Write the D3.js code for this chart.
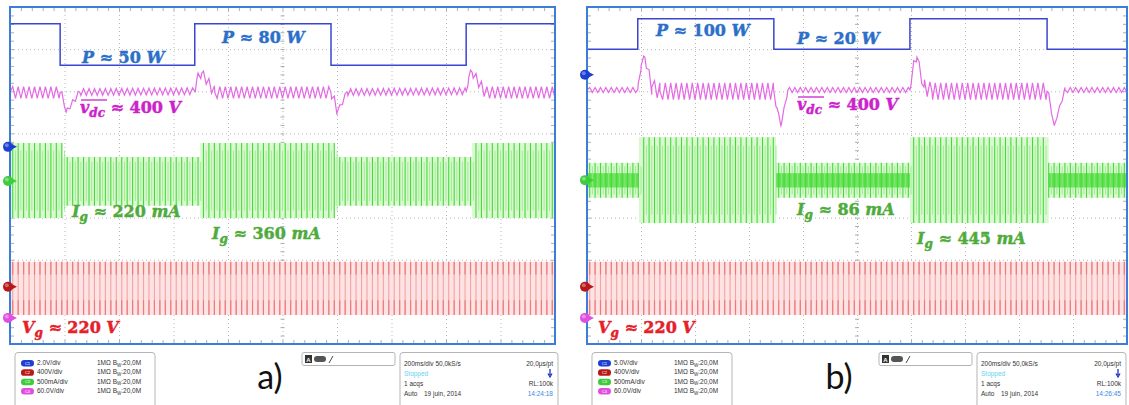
<!DOCTYPE html>
<html><head><meta charset="utf-8">
<script src="https://cdn.jsdelivr.net/npm/d3@7"></script>
<style>body{margin:0;background:#fff} svg{display:block}</style>
</head><body>
<svg id="chart" width="1129" height="405"></svg>
<script>
// ===== DATA (horizontal in divisions 0..10 @200 ms/div, vertical in divisions -4..4) =====
const cyclesPerDiv = 10;           // 50 Hz grid at 200 ms/div
const channelNames = ["C1", "C2", "C3", "C4"];
const horizSettings = ["200ms/div 50,0kS/s", "20,0µs/pt"];
const acqInfo = ["Stopped", "1 acqs", "RL:100k", "Auto", "19 juin, 2014"];
const probeInfo = "1MΩ";
const bwInfo = ":20,0M";

// ---- panel a ----
const aChannelScales = ["2.0V/div", "400V/div", "500mA/div", "60.0V/div"];
const aTime = "14:24:18";
const aTag = "a)";
const aPowerSwitch = [0.92, 3.39, 5.89, 8.37];
const aPowerLevel  = [3.60, 2.62, 3.60, 2.62, 3.60];
const aVdcTime   = [0, 0.92, 0.97, 1.03, 1.28, 3.39, 3.43, 3.52, 3.76, 5.89, 5.96, 6.00, 6.19, 8.37, 8.42, 8.48, 8.72, 10];
const aVdcLevel  = [1.97, 1.97, 1.85, 1.51, 1.98, 2.00, 2.30, 2.43, 1.97, 1.97, 1.80, 1.49, 1.98, 2.00, 2.35, 2.45, 1.97, 1.97];
const aVdcRipple = [0.14, 0.14, 0.05, 0.05, 0.08, 0.08, 0.10, 0.10, 0.14, 0.14, 0.05, 0.05, 0.08, 0.08, 0.10, 0.10, 0.14, 0.14];
const aIgSwitch = [0.97, 3.49, 5.96, 8.48];
const aIgTop    = [0.77, 0.44, 0.77, 0.44, 0.77];
const aIgBottom = [-1.01, -0.72, -1.01, -0.72, -1.01];
const aVgEnvelope = [-2.05, -3.31];
const aMarkers = [0.68, -2.64, -0.13, -3.38];   // C1, C2, C3, C4 reference levels
const aLabelText = ["P ≈ 50 W", "P ≈ 80 W", "vdc ≈ 400 V", "Ig ≈ 220 mA", "Ig ≈ 360 mA", "Vg ≈ 220 V"];

// ---- panel b ----
const bChannelScales = ["5.0V/div", "400V/div", "500mA/div", "60.0V/div"];
const bTime = "14:26:45";
const bTag = "b)";
const bPowerSwitch = [0.94, 3.46, 5.98, 8.52];
const bPowerLevel  = [3.00, 3.72, 3.00, 3.72, 3.00];
const bVdcTime   = [0, 0.94, 1.00, 1.07, 1.20, 1.35, 3.46, 3.52, 3.59, 3.72, 5.98, 6.04, 6.11, 6.24, 6.39, 8.52, 8.59, 8.65, 8.85, 10];
const bVdcLevel  = [2.03, 2.03, 2.60, 2.81, 2.10, 2.00, 2.00, 1.60, 1.18, 2.03, 2.03, 2.60, 2.81, 2.10, 2.00, 2.00, 1.60, 1.18, 2.03, 2.03];
const bVdcRipple = [0.06, 0.06, 0.10, 0.08, 0.18, 0.20, 0.20, 0.05, 0.03, 0.06, 0.06, 0.10, 0.08, 0.18, 0.20, 0.20, 0.05, 0.03, 0.06, 0.06];
const bIgSwitch = [0.96, 3.50, 5.98, 8.55];
const bIgTop    = [0.30, 0.91, 0.30, 0.91, 0.30];
const bIgBottom = [-0.53, -1.13, -0.53, -1.13, -0.53];
const bIgCore   = [0.17, 0, 0.17, 0, 0.17];   // dense bright band (half-height) in low-power segments
const bVgEnvelope = [-2.05, -3.31];
const bMarkers = [2.39, -2.64, -0.11, -3.38];
const bLabelText = ["P ≈ 100 W", "P ≈ 20 W", "vdc ≈ 400 V", "Ig ≈ 86 mA", "Ig ≈ 445 mA", "Vg ≈ 220 V"];

// ===== DRAWING =====
const svg = d3.select("#chart");
const COL = {
  frame: "#3b7dd8", grid: "#b9b9b9",
  c1: "#3a46cf", c2: "#ee7a7a", c2fill: "#fde3e3", c3: "#42dc38", c3fill: "#dcf8d2", c4: "#e46ae4",
  tP: "#2b6fc9", tV: "#cc22cc", tI: "#4fab3b", tR: "#e4202a"
};
const markerCol = ["#1d3fd2", "#b81818", "#3ccc3c", "#e050e0"];

function drawPanel(cfg) {
  const g = svg.append("g");
  const x = d3.scaleLinear().domain([0, 10]).range([cfg.x0, cfg.x1]);
  const y = d3.scaleLinear().domain([-4, 4]).range([cfg.y1, cfg.y0]);
  const W = cfg.x1 - cfg.x0, H = cfg.y1 - cfg.y0;
  const clean = s => { s.select(".domain").remove(); s.selectAll("text").remove(); };

  // grid (dotted)
  g.append("g").attr("transform", `translate(0,${cfg.y0})`)
    .call(d3.axisBottom(x).tickValues(d3.range(1, 10)).tickSize(H).tickFormat(""))
    .call(clean).selectAll("line").attr("stroke", COL.grid).attr("stroke-dasharray", "1,3");
  g.append("g").attr("transform", `translate(${cfg.x0},0)`)
    .call(d3.axisRight(y).tickValues(d3.range(-3, 4)).tickSize(W).tickFormat(""))
    .call(clean).selectAll("line").attr("stroke", COL.grid).attr("stroke-dasharray", "1,3");

  // minor ticks on borders and centre lines
  const minorX = d3.range(0, 10.001, 0.2), minorY = d3.range(-4, 4.001, 0.2);
  const tickStyle = s => { clean(s); s.selectAll("line").attr("stroke", "#999").attr("stroke-width", 0.8); };
  g.append("g").attr("transform", `translate(0,${cfg.y0})`).call(d3.axisBottom(x).tickValues(minorX).tickSize(4).tickFormat("")).call(tickStyle);
  g.append("g").attr("transform", `translate(0,${cfg.y1})`).call(d3.axisTop(x).tickValues(minorX).tickSize(4).tickFormat("")).call(tickStyle);
  g.append("g").attr("transform", `translate(${cfg.x0},0)`).call(d3.axisRight(y).tickValues(minorY).tickSize(4).tickFormat("")).call(tickStyle);
  g.append("g").attr("transform", `translate(${cfg.x1},0)`).call(d3.axisLeft(y).tickValues(minorY).tickSize(4).tickFormat("")).call(tickStyle);
  g.append("g").attr("transform", `translate(0,${y(0) - 2})`).call(d3.axisBottom(x).tickValues(minorX).tickSize(4).tickFormat("")).call(tickStyle);
  g.append("g").attr("transform", `translate(${x(5) - 2},0)`).call(d3.axisRight(y).tickValues(minorY).tickSize(4).tickFormat("")).call(tickStyle);

  const cycles = d3.range(0, 10 * cyclesPerDiv).map(k => (k + 0.5) / cyclesPerDiv);

  // Vg (C2) red
  const [vgT, vgB] = cfg.vg;
  g.append("rect").attr("x", x(0)).attr("y", y(vgT)).attr("width", x(10) - x(0)).attr("height", y(vgB) - y(vgT)).attr("fill", COL.c2fill);
  g.append("g").selectAll("line").data(cycles).join("line")
    .attr("x1", d => x(d)).attr("x2", d => x(d)).attr("y1", y(vgT)).attr("y2", y(vgB))
    .attr("stroke", "#f4a4a4").attr("stroke-width", 1.1);
  [[vgT, vgT - 0.3], [vgB + 0.35, vgB]].forEach(([a, b]) => {
    g.append("g").selectAll("line").data(cycles).join("line")
      .attr("x1", d => x(d)).attr("x2", d => x(d)).attr("y1", y(a)).attr("y2", y(b))
      .attr("stroke", COL.c2).attr("stroke-width", 1.2);
  });

  // Ig (C3) green
  const igB = [0, ...cfg.igSwitch, 10];
  const segOf = t => d3.bisectRight(cfg.igSwitch, t);
  const mid = i => (cfg.igTop[i] + cfg.igBottom[i]) / 2;
  g.append("g").selectAll("rect").data(cfg.igTop).join("rect")
    .attr("x", (d, i) => x(igB[i])).attr("width", (d, i) => x(igB[i + 1]) - x(igB[i]))
    .attr("y", d => y(d)).attr("height", (d, i) => y(cfg.igBottom[i]) - y(d))
    .attr("fill", COL.c3fill);
  if (cfg.igCore) {
    g.append("g").selectAll("rect").data(cfg.igCore).join("rect")
      .attr("x", (d, i) => x(igB[i])).attr("width", (d, i) => x(igB[i + 1]) - x(igB[i]))
      .attr("y", (d, i) => y(mid(i) + d)).attr("height", (d, i) => y(mid(i) - d) - y(mid(i) + d))
      .attr("fill", "#66e055");
  }
  g.append("g").selectAll("line").data(cycles).join("line")
    .attr("x1", d => x(d)).attr("x2", d => x(d))
    .attr("y1", d => y(cfg.igTop[segOf(d)])).attr("y2", d => y(cfg.igBottom[segOf(d)]))
    .attr("stroke", COL.c3).attr("stroke-width", 1.1);
  // thinner secondary strokes between cycles (sampling pattern)
  g.append("g").selectAll("line").data(cycles).join("line")
    .attr("x1", d => x(d + 0.05)).attr("x2", d => x(d + 0.05))
    .attr("y1", d => y(mid(segOf(d)) + 0.8 * (cfg.igTop[segOf(d)] - mid(segOf(d)))))
    .attr("y2", d => y(mid(segOf(d)) + 0.8 * (cfg.igBottom[segOf(d)] - mid(segOf(d)))))
    .attr("stroke", "#8eea80").attr("stroke-width", 0.8);

  // Vdc (C4) magenta: envelope with ripple
  const cen = d3.scaleLinear().domain(cfg.vdcTime).range(cfg.vdcLevel);
  const amp = d3.scaleLinear().domain(cfg.vdcTime).range(cfg.vdcRipple);
  const half = d3.range(0, 20 * cyclesPerDiv + 1).map(i => i / (2 * cyclesPerDiv));
  const pts = half.map((t, i) => [t, cen(t) + (i % 2 ? 1 : -1) * amp(t)]);
  cfg.vdcTime.forEach(t => pts.push([t, cen(t)]));
  pts.sort((a, b) => a[0] - b[0]);
  g.append("path").attr("d", d3.line().x(d => x(d[0])).y(d => y(d[1]))(pts))
    .attr("fill", "none").attr("stroke", COL.c4).attr("stroke-width", 1.2);

  // P (C1) blue step
  const pb = [0, ...cfg.pSwitch];
  const ppts = cfg.pLevel.map((v, i) => [pb[i], v]).concat([[10, cfg.pLevel[cfg.pLevel.length - 1]]]);
  g.append("path").attr("d", d3.line().curve(d3.curveStepAfter).x(d => x(d[0])).y(d => y(d[1]))(ppts))
    .attr("fill", "none").attr("stroke", COL.c1).attr("stroke-width", 1.5);

  // frame
  g.append("rect").attr("x", cfg.x0).attr("y", cfg.y0).attr("width", W).attr("height", H)
    .attr("fill", "none").attr("stroke", COL.frame).attr("stroke-width", 2);

  // channel markers
  g.append("g").selectAll("g").data(cfg.markers).join("g")
    .attr("transform", d => `translate(${cfg.x0 - 2},${y(d)})`)
    .each(function (d, i) {
      const m = d3.select(this);
      m.append("path").attr("d", "M4,-2.5 L9,0 L4,2.5 Z").attr("fill", markerCol[i]);
      m.append("circle").attr("r", 5).attr("fill", markerCol[i]);
      m.append("circle").attr("r", 2).attr("cx", -1.2).attr("cy", -1.5).attr("fill", "#fff").attr("opacity", 0.35);
    });

  // labels
  const T = cfg.labels;
  const fam = "'DejaVu Serif', serif";
  function label(xp, yp, col, parts) {
    const t = g.append("text").attr("x", xp).attr("y", yp).attr("fill", col).attr("stroke", col).attr("stroke-width", 0.45)
      .attr("font-family", fam).attr("font-weight", "bold").attr("font-size", 16);
    parts.forEach(p => {
      const s = t.append("tspan").text(p.t).attr("font-style", p.i ? "italic" : "normal");
      if (p.sub) s.attr("font-size", 12).attr("dy", 4);
      if (p.up) s.attr("dy", -4);
    });
    return t;
  }
  const split = s => { const m = s.split(" ≈ "); return [m[0], m[1]]; };
  cfg.labelPos.forEach((pos, i) => {
    const [lhs, rhs] = split(T[i]);
    const num = rhs.split(" ");
    const rhsParts = [{ t: " ≈ " + num[0] + " ", up: lhs.length > 1 }, { t: num[1], i: true }];
    let col, lhsParts;
    if (lhs === "P") { col = COL.tP; lhsParts = [{ t: "P", i: true }]; rhsParts[0].up = false; }
    else if (lhs === "vdc") { col = COL.tV; lhsParts = [{ t: "v", i: true }, { t: "dc", i: true, sub: true }]; }
    else if (lhs === "Ig") { col = COL.tI; lhsParts = [{ t: "I", i: true }, { t: "g", i: true, sub: true }]; }
    else { col = COL.tR; lhsParts = [{ t: "V", i: true }, { t: "g", i: true, sub: true }]; }
    label(pos[0], pos[1], col, lhsParts.concat(rhsParts));
    if (lhs === "vdc") {
      g.append("line").attr("x1", pos[0] + 1).attr("x2", pos[0] + 27).attr("y1", pos[1] - 13).attr("y2", pos[1] - 13)
        .attr("stroke", col).attr("stroke-width", 1.3);
    }
  });

  // ---- info boxes ----
  const inf = svg.append("g").attr("font-family", "'Liberation Sans', Arial, sans-serif").attr("font-size", 6.5).attr("fill", "#333");
  const lb = cfg.x0 + 5;
  inf.append("rect").attr("x", lb).attr("y", 352.5).attr("width", 140).attr("height", 60).attr("rx", 3)
    .attr("fill", "none").attr("stroke", "#b5b5b5");
  const rowY = d3.scaleLinear().domain([0, 3]).range([365, 393]);
  channelNames.forEach((c, i) => {
    inf.append("rect").attr("x", lb + 6).attr("y", rowY(i) - 5).attr("width", 13).attr("height", 6.5).attr("rx", 3.2)
      .attr("fill", markerCol[i]);
    inf.append("text").attr("x", lb + 12.5).attr("y", rowY(i) - 0.5).attr("text-anchor", "middle").attr("font-size", 4)
      .attr("fill", "#fff").text(c);
    inf.append("text").attr("x", lb + 22).attr("y", rowY(i)).text(cfg.scales[i]);
    const t = inf.append("text").attr("x", lb + 82).attr("y", rowY(i));
    t.append("tspan").text(probeInfo + " B");
    t.append("tspan").attr("font-size", 4.5).attr("dy", 1.5).text("W");
    t.append("tspan").attr("dy", -1.5).text(bwInfo);
  });
  // trigger box
  const tb = cfg.x0 + 292;
  inf.append("rect").attr("x", tb).attr("y", 352.5).attr("width", 93).attr("height", 13).attr("rx", 2)
    .attr("fill", "none").attr("stroke", "#b5b5b5");
  inf.append("rect").attr("x", tb + 3).attr("y", 355).attr("width", 7).attr("height", 8).attr("fill", "#333");
  inf.append("text").attr("x", tb + 6.5).attr("y", 361.5).attr("text-anchor", "middle").attr("fill", "#fff").attr("font-size", 6).attr("font-weight", "bold").text("A");
  inf.append("rect").attr("x", tb + 12).attr("y", 356).attr("width", 12).attr("height", 6).attr("rx", 3).attr("fill", "#555");
  inf.append("path").attr("d", `M${tb + 27},363 L${tb + 31},356`).attr("stroke", "#333").attr("stroke-width", 0.9);
  // horizontal settings box
  const rb = cfg.x0 + 390, rw = cfg.rightW;
  inf.append("rect").attr("x", rb).attr("y", 352.5).attr("width", rw).attr("height", 60).attr("rx", 3)
    .attr("fill", "none").attr("stroke", "#b5b5b5");
  const rr = rb + rw - 5;
  inf.append("text").attr("x", rb + 4).attr("y", 366).text(horizSettings[0]);
  inf.append("text").attr("x", rr).attr("y", 366).attr("text-anchor", "end").text(horizSettings[1]);
  inf.append("text").attr("x", rb + 4).attr("y", 376).attr("fill", "#5fd3f0").text(acqInfo[0]);
  inf.append("path").attr("d", `M${rr - 3},369 L${rr - 3},375 M${rr - 5},373.5 L${rr - 3},377 L${rr - 1},373.5`)
    .attr("stroke", "#2030c0").attr("stroke-width", 1.3).attr("fill", "none");
  inf.append("text").attr("x", rb + 4).attr("y", 386).text(acqInfo[1]);
  inf.append("text").attr("x", rr).attr("y", 386).attr("text-anchor", "end").text(acqInfo[2]);
  inf.append("text").attr("x", rb + 4).attr("y", 396).text(acqInfo[3]);
  inf.append("text").attr("x", rb + 24).attr("y", 396).text(acqInfo[4]);
  inf.append("text").attr("x", rr).attr("y", 396).attr("text-anchor", "end").attr("fill", "#3a8ae0").text(cfg.time);
  // panel tag
  svg.append("text").attr("x", cfg.tagX).attr("y", 389).attr("text-anchor", "middle")
    .attr("font-family", "Lato, 'Liberation Sans', sans-serif").attr("font-size", 34).attr("fill", "#111").text(cfg.tag);
}

drawPanel({
  x0: 10, x1: 555, y0: 7, y1: 344,
  pSwitch: aPowerSwitch, pLevel: aPowerLevel,
  vdcTime: aVdcTime, vdcLevel: aVdcLevel, vdcRipple: aVdcRipple,
  igSwitch: aIgSwitch, igTop: aIgTop, igBottom: aIgBottom, igCore: null,
  vg: aVgEnvelope, markers: aMarkers, labels: aLabelText,
  labelPos: [[82, 63], [222, 43], [80, 113], [72, 217], [212, 239], [22, 333]],
  scales: aChannelScales, time: aTime, tag: aTag, tagX: 270, rightW: 158
});
drawPanel({
  x0: 587, x1: 1127, y0: 7, y1: 344,
  pSwitch: bPowerSwitch, pLevel: bPowerLevel,
  vdcTime: bVdcTime, vdcLevel: bVdcLevel, vdcRipple: bVdcRipple,
  igSwitch: bIgSwitch, igTop: bIgTop, igBottom: bIgBottom, igCore: bIgCore,
  vg: bVgEnvelope, markers: bMarkers, labels: bLabelText,
  labelPos: [[656, 36], [797, 44], [797, 110], [797, 215], [917, 244], [598, 333]],
  scales: bChannelScales, time: bTime, tag: bTag, tagX: 839, rightW: 149
});
</script>
</body></html>
